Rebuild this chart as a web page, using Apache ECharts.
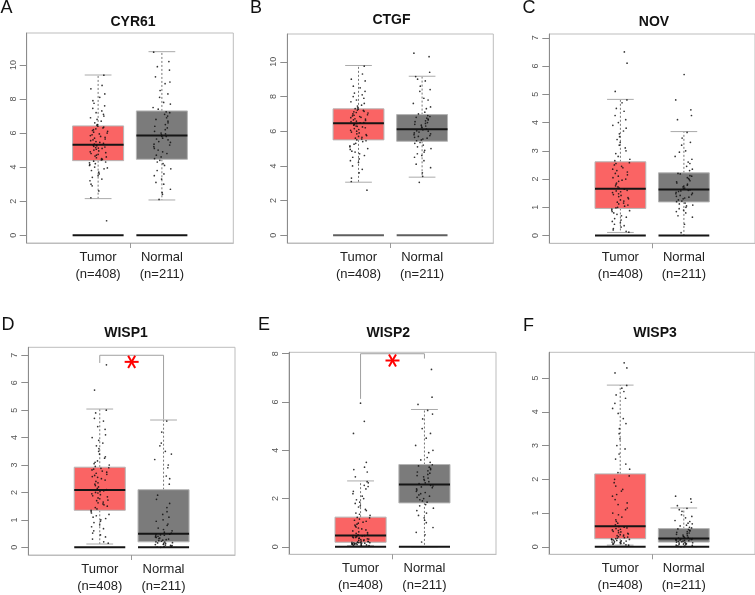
<!DOCTYPE html>
<html><head><meta charset="utf-8">
<script src="https://cdn.jsdelivr.net/npm/echarts@6/dist/echarts.min.js"></script>
<style>html,body{margin:0;padding:0;background:#fff}#c{width:755px;height:595px}</style>
</head><body><div id="c"></div>
<script>
// ---------- DATA ----------
const panelLetters = ['A','B','C','D','E','F'];
const genes = ['CYR61','CTGF','NOV','WISP1','WISP2','WISP3'];
const groupNames = ['Tumor','Normal'];
const groupCounts = [408, 211];
const groupPositions = [1, 2];

// y tick labels per panel
const ticksCYR61 = [0,2,4,6,8,10];
const ticksCTGF  = [0,2,4,6,8,10];
const ticksNOV   = [0,1,2,3,4,5,6,7];
const ticksWISP1 = [0,1,2,3,4,5,6,7];
const ticksWISP2 = [0,2,4,6,8];
const ticksWISP3 = [0,1,2,3,4,5];

// largest plotted value per panel (axis padded 4% each side, as in R)
const dataMax = [11.42, 11.16, 6.86, 7.01, 7.75, 5.54];

// box stats: [lower whisker, Q1, median, Q3, upper whisker]
const cyr61Tumor  = [2.15, 4.38, 5.32, 6.42, 9.41];
const cyr61Normal = [2.07, 4.46, 5.85, 7.30, 10.78];
const ctgfTumor   = [3.06, 5.50, 6.46, 7.29, 9.79];
const ctgfNormal  = [3.35, 5.42, 6.11, 6.96, 9.17];
const novTumor    = [0.11, 0.96, 1.66, 2.61, 4.82];
const novNormal   = [0.00, 1.19, 1.63, 2.22, 3.68];
const wisp1Tumor  = [0.12, 1.35, 2.09, 2.92, 5.04];
const wisp1Normal = [0.00, 0.20, 0.49, 2.10, 4.64];
const wisp2Tumor  = [0.05, 0.19, 0.47, 1.23, 2.73];
const wisp2Normal = [0.00, 1.82, 2.58, 3.41, 5.69];
const wisp3Tumor  = [0.05, 0.24, 0.61, 2.16, 4.79];
const wisp3Normal = [0.00, 0.14, 0.25, 0.54, 1.15];

// jittered sample points (expression values)
const cyr61TumorPts = [0.85,2.2,2.6,2.9,3.2,3.4,3.6,3.8,3.95,4.1,4.2,4.3,4.42,4.5,4.6,4.7,4.8,4.9,5.0,5.1,5.15,5.22,5.3,5.4,5.5,5.6,5.7,5.8,5.9,6.0,6.1,6.2,6.3,6.4,6.5,6.7,6.9,7.1,7.3,7.6,7.9,8.3,8.8,9.4,
  3.0,3.3,3.5,3.7,3.9,4.0,4.15,4.25,4.35,4.45,4.55,4.65,4.75,4.85,4.95,5.05,5.12,5.18,5.25,5.28,5.35,5.45,5.55,5.65,5.75,5.85,5.95,6.05,6.15,6.25,6.35,6.45,6.6,6.8,7.0,7.2,7.45,7.75,8.1,8.6];
const cyr61NormalPts = [2.1,2.4,2.7,3.0,3.3,3.6,3.9,4.2,4.4,4.6,4.8,5.0,5.2,5.35,5.5,5.6,5.7,5.8,5.95,6.1,6.3,6.5,6.7,6.8,7.0,7.1,7.25,7.5,7.8,8.1,8.5,8.9,9.3,9.7,10.2,10.75,
  2.5,3.1,3.5,3.8,4.1,4.3,4.5,4.7,4.9,5.1,5.3,5.45,5.65,5.8,5.9,6.0,6.2,6.4,6.6,6.9,7.2,7.4,7.7,8.3,9.0,9.9];
const ctgfTumorPts = [2.6,3.1,3.6,4.0,4.3,4.5,4.7,4.85,5.0,5.15,5.3,5.45,5.55,5.65,5.75,5.85,5.95,6.05,6.15,6.25,6.3,6.38,6.44,6.5,6.58,6.65,6.72,6.8,6.88,6.95,7.05,7.12,7.2,7.27,7.35,7.5,7.7,7.9,8.1,8.3,8.6,8.9,9.3,9.75,
  3.3,3.8,4.2,4.4,4.6,4.8,4.95,5.1,5.25,5.4,5.5,5.6,5.7,5.8,5.9,6.0,6.1,6.2,6.28,6.35,6.42,6.48,6.55,6.62,6.7,6.78,6.85,6.92,7.0,7.08,7.15,7.22,7.3,7.45,7.6,7.8,8.0,8.2,8.5,9.0];
const ctgfNormalPts = [3.05,3.4,3.9,4.3,4.6,4.8,5.0,5.2,5.35,5.5,5.6,5.7,5.8,5.9,5.95,6.0,6.08,6.2,6.3,6.4,6.5,6.6,6.7,6.8,6.9,7.1,7.3,7.6,7.9,8.3,8.6,8.9,9.15,9.4,10.3,10.5,
  3.6,4.1,4.5,4.7,4.9,5.1,5.3,5.45,5.55,5.65,5.75,5.85,6.02,6.12,6.25,6.35,6.45,6.55,6.65,6.75,6.85,7.0,7.4,7.8,8.4,9.0];
const novTumorPts = [0.12,0.2,0.3,0.4,0.5,0.6,0.7,0.8,0.88,0.94,1.0,1.08,1.15,1.22,1.3,1.38,1.45,1.52,1.58,1.64,1.72,1.82,1.92,2.0,2.1,2.2,2.3,2.4,2.5,2.58,2.7,2.9,3.1,3.3,3.5,3.7,3.9,4.1,4.4,4.8,5.1,6.1,6.5,
  0.15,0.25,0.35,0.45,0.55,0.65,0.75,0.85,0.9,0.98,1.04,1.12,1.18,1.26,1.34,1.42,1.48,1.55,1.6,1.68,1.76,1.86,1.96,2.05,2.15,2.25,2.35,2.45,2.55,2.65,2.8,3.0,3.2,3.4,3.6,3.8,4.0,4.25,4.5,4.7];
const novNormalPts = [0.1,0.4,0.65,0.8,0.9,1.0,1.08,1.15,1.22,1.3,1.36,1.42,1.48,1.53,1.58,1.62,1.68,1.75,1.82,1.9,1.98,2.05,2.12,2.2,2.3,2.45,2.6,2.8,3.0,3.2,3.45,3.65,4.1,4.25,4.45,4.8,5.7,
  0.7,0.85,0.95,1.05,1.12,1.2,1.26,1.33,1.39,1.45,1.5,1.56,1.6,1.66,1.72,1.78,1.86,1.94,2.02,2.1,2.18,2.35,2.55,2.7,2.95,3.3];
const wisp1TumorPts = [0.15,0.3,0.45,0.6,0.75,0.9,1.0,1.1,1.2,1.3,1.4,1.5,1.58,1.65,1.72,1.8,1.88,1.95,2.0,2.06,2.15,2.25,2.35,2.45,2.55,2.62,2.7,2.78,2.85,2.9,3.0,3.1,3.25,3.4,3.6,3.8,4.0,4.3,4.6,5.0,5.73,6.65,
  0.2,0.38,0.52,0.68,0.82,0.95,1.05,1.15,1.25,1.35,1.45,1.55,1.62,1.7,1.77,1.84,1.92,1.98,2.03,2.1,2.2,2.3,2.4,2.5,2.58,2.66,2.74,2.82,2.88,2.95,3.05,3.15,3.3,3.5,3.7,3.9,4.1,4.4,4.7,4.9];
const wisp1NormalPts = [0.0,0.03,0.06,0.08,0.11,0.14,0.17,0.19,0.22,0.26,0.3,0.34,0.38,0.42,0.45,0.48,0.55,0.65,0.8,0.95,1.1,1.3,1.6,1.9,2.3,2.6,2.9,3.2,3.5,3.8,4.2,4.6,
  0.01,0.04,0.07,0.1,0.13,0.16,0.2,0.24,0.28,0.32,0.36,0.4,0.44,0.47,0.52,0.6,0.7,0.85,1.0,1.2,1.45,1.75,2.5,3.0,3.4,3.7];
const wisp2TumorPts = [0.05,0.07,0.09,0.1,0.12,0.13,0.15,0.16,0.17,0.18,0.2,0.23,0.26,0.29,0.32,0.35,0.38,0.41,0.44,0.46,0.5,0.56,0.62,0.7,0.78,0.86,0.94,1.02,1.1,1.2,1.3,1.4,1.55,1.7,1.85,2.0,2.2,2.4,2.55,2.7,2.9,3.1,3.3,3.5,4.7,5.2,5.95,
  0.06,0.08,0.1,0.11,0.13,0.14,0.15,0.17,0.18,0.19,0.21,0.24,0.27,0.3,0.33,0.36,0.39,0.42,0.45,0.47,0.53,0.59,0.66,0.74,0.82,0.9,0.98,1.06,1.15,1.22,1.35,1.5,1.65,1.8,1.95,2.1,2.3,2.5,2.65,3.2];
const wisp2NormalPts = [0.2,0.5,0.8,1.0,1.2,1.4,1.6,1.75,1.9,2.0,2.1,2.2,2.3,2.4,2.48,2.55,2.65,2.75,2.85,2.95,3.05,3.15,3.25,3.35,3.5,3.7,3.9,4.2,4.5,4.9,5.3,5.65,5.9,6.2,7.35,
  0.6,1.1,1.3,1.5,1.7,1.85,1.95,2.05,2.15,2.25,2.35,2.45,2.52,2.62,2.7,2.8,2.9,3.0,3.1,3.2,3.3,3.4,3.6,4.0,4.7,5.5];
const wisp3TumorPts = [0.05,0.08,0.1,0.12,0.14,0.16,0.18,0.2,0.22,0.23,0.26,0.29,0.32,0.35,0.38,0.42,0.46,0.5,0.54,0.58,0.7,0.8,0.95,1.1,1.25,1.4,1.55,1.7,1.9,2.1,2.3,2.6,2.9,3.2,3.5,3.8,4.1,4.4,4.6,4.78,5.15,5.3,5.45,
  0.06,0.09,0.11,0.13,0.15,0.17,0.19,0.21,0.22,0.24,0.27,0.3,0.33,0.36,0.4,0.44,0.48,0.52,0.56,0.6,0.65,0.75,0.88,1.0,1.15,1.3,1.5,1.65,1.8,2.0,2.2,2.45,2.75,3.0,3.35,3.65,3.95,4.25,4.5,4.7];
const wisp3NormalPts = [0.0,0.02,0.04,0.06,0.08,0.1,0.12,0.13,0.15,0.17,0.18,0.2,0.21,0.22,0.23,0.24,0.27,0.3,0.33,0.37,0.41,0.45,0.49,0.53,0.58,0.64,0.7,0.78,0.86,0.95,1.05,1.14,1.22,1.32,1.42,1.5,
  0.01,0.03,0.05,0.07,0.09,0.11,0.14,0.16,0.19,0.2,0.22,0.24,0.26,0.28,0.31,0.35,0.39,0.43,0.47,0.51,0.56,0.62,0.68,0.75,0.9,1.1];

// significance brackets: [bracket top, left leg end, right leg end, asterisk y]
const wisp1Sig = [7.0, 6.72, 4.66, 6.76];
const wisp2Sig = [8.0, 6.13, 7.80, 7.72];

// ---------- ASSEMBLY ----------
const panelTicks = [ticksCYR61, ticksCTGF, ticksNOV, ticksWISP1, ticksWISP2, ticksWISP3];
const panelBoxes = [[cyr61Tumor,cyr61Normal],[ctgfTumor,ctgfNormal],[novTumor,novNormal],[wisp1Tumor,wisp1Normal],[wisp2Tumor,wisp2Normal],[wisp3Tumor,wisp3Normal]];
const panelPts = [[cyr61TumorPts,cyr61NormalPts],[ctgfTumorPts,ctgfNormalPts],[novTumorPts,novNormalPts],[wisp1TumorPts,wisp1NormalPts],[wisp2TumorPts,wisp2NormalPts],[wisp3TumorPts,wisp3NormalPts]];
const panelSig = [null, null, null, wisp1Sig, wisp2Sig, null];

// layout
const gridRects = [
  [26.7, 33, 206.6, 210],
  [287.3, 34, 206, 209],
  [549.3, 34, 206, 209.3],
  [28.3, 347.3, 206.7, 208.4],
  [289, 352.3, 207, 202],
  [549, 352.3, 206, 202]
];
const titlePos = [[133,21.7],[391.5,20.5],[654,21.7],[126,333.3],[388.3,333],[655,333]];
const letterPos = [[0.5,8.5],[250,8.5],[522.5,8.5],[1.5,325],[258,325.5],[523,326]];
const FONT = '"Liberation Sans", Arial, sans-serif';
const boxColors = ['#FA6464', '#7b7b7b'];
const zeroColors = ['#151515','#5f5f5f','#151515','#151515','#151515','#151515'];
const BOX_HALF = 0.4, CAP_HALF = 0.21, JIT = 0.15;

// deterministic horizontal spread for the jittered dots (layout only)
function jitterOffset(k, g) {
  const t = (k * k * 0.6180339887 + k * 0.3247 + g * 0.41) % 1;
  return (t - 0.5) * 2 * JIT;
}

const grids = [], xAxes = [], yAxes = [], series = [], graphics = [];

panelLetters.forEach((L, i) => {
  const r = gridRects[i];
  grids.push({left: r[0], top: r[1], width: r[2], height: r[3], show: true,
    borderColor: '#bdbdbd', borderWidth: 1, backgroundColor: 'transparent', containLabel: false});
  const pad = dataMax[i] * 0.04;
  xAxes.push({type: 'value', gridIndex: i, min: -0.12, max: 3.12,
    axisLine: {show: true, onZero: false, lineStyle: {color: '#bdbdbd', width: 1}},
    axisTick: {show: true, customValues: [1.5], length: 5, lineStyle: {color: '#999'}},
    axisLabel: {customValues: groupPositions, margin: 6, fontSize: 13, lineHeight: 17,
      fontFamily: FONT, color: '#222',
      formatter: v => { const k = groupPositions.indexOf(v); return k < 0 ? '' : groupNames[k] + '\n(n=' + groupCounts[k] + ')'; }},
    splitLine: {show: false}});
  yAxes.push({type: 'value', gridIndex: i, min: -pad, max: dataMax[i] + pad,
    axisLine: {show: true, onZero: false, lineStyle: {color: '#8c8c8c', width: 1}},
    axisTick: {show: true, customValues: panelTicks[i], length: 7, lineStyle: {color: '#8c8c8c'}},
    axisLabel: {customValues: panelTicks[i], rotate: 90, fontSize: 9, color: '#555', margin: 9, fontFamily: FONT},
    splitLine: {show: false}});

  const zc = zeroColors[i];
  series.push({
    type: 'custom', xAxisIndex: i, yAxisIndex: i, z: 2, silent: true,
    data: panelBoxes[i].map((s, g) => [groupPositions[g], s[0], s[1], s[2], s[3], s[4], g]),
    renderItem: (params, api) => {
      const p = api.value(0), lo = api.value(1), q1 = api.value(2), md = api.value(3), q3 = api.value(4), hi = api.value(5), g = api.value(6);
      const c = (x, y) => api.coord([x, y]);
      const tl = c(p - BOX_HALF, q3), br = c(p + BOX_HALF, q1);
      const line = (a, b, st) => ({type: 'line', shape: {x1: a[0], y1: a[1], x2: b[0], y2: b[1]}, style: st});
      const wst = {stroke: '#777', lineWidth: 1, lineDash: [2, 2]};
      const cst = {stroke: '#aaa', lineWidth: 1};
      return {type: 'group', children: [
        line(c(p, q3), c(p, hi), wst),
        line(c(p, q1), c(p, lo), wst),
        line(c(p - CAP_HALF, hi), c(p + CAP_HALF, hi), cst),
        line(c(p - CAP_HALF, lo), c(p + CAP_HALF, lo), cst),
        {type: 'rect', shape: {x: tl[0], y: tl[1], width: br[0] - tl[0], height: br[1] - tl[1]},
          style: {fill: boxColors[g], stroke: '#b5b5b5', lineWidth: 1}},
        line(c(p - BOX_HALF, md), c(p + BOX_HALF, md), {stroke: '#151515', lineWidth: 2}),
        line(c(p - BOX_HALF, 0), c(p + BOX_HALF, 0), {stroke: zc, lineWidth: 2})
      ]};
    }
  });

  const pts = [];
  panelPts[i].forEach((arr, g) => arr.forEach((v, k) => {
    pts.push([groupPositions[g] + jitterOffset(k + 1, g), v]);
  }));
  series.push({type: 'scatter', xAxisIndex: i, yAxisIndex: i, z: 3, silent: true,
    symbolSize: 1.7, itemStyle: {color: '#111', opacity: 0.85}, data: pts});

  if (panelSig[i]) {
    const s = panelSig[i];
    series.push({type: 'custom', xAxisIndex: i, yAxisIndex: i, z: 4, silent: true,
      data: [[s[0], s[1], s[2], s[3]]],
      renderItem: (params, api) => {
        const top = api.value(0), yl = api.value(1), yr = api.value(2), ys = api.value(3);
        const x1 = groupPositions[0], x2 = groupPositions[1];
        const a = api.coord([x1, yl]), b = api.coord([x1, top]), cc = api.coord([x2, top]), d = api.coord([x2, yr]);
        const st = api.coord([(x1 + x2) / 2, ys]);
        const R = 7, kids = [{type: 'polyline', shape: {points: [a, b, cc, d]}, style: {stroke: '#a0a0a0', lineWidth: 1, fill: null}}];
        [0, 60, 120].forEach(ang => {
          const rad = ang * Math.PI / 180, dx = R * Math.cos(rad), dy = R * Math.sin(rad);
          kids.push({type: 'line', shape: {x1: st[0] - dx, y1: st[1] - dy, x2: st[0] + dx, y2: st[1] + dy},
            style: {stroke: '#ff0000', lineWidth: 2}});
        });
        return {type: 'group', children: kids};
      }});
  }

  graphics.push({type: 'text', x: titlePos[i][0], y: titlePos[i][1],
    style: {text: genes[i], font: 'bold 14px ' + FONT, fill: '#111', textAlign: 'center', textVerticalAlign: 'middle'}});
  graphics.push({type: 'text', x: letterPos[i][0], y: letterPos[i][1],
    style: {text: L, font: '18px ' + FONT, fill: '#111', textAlign: 'left', textVerticalAlign: 'middle'}});
});

const chart = echarts.init(document.getElementById('c'), null, {renderer: 'canvas'});
chart.setOption({
  animation: false,
  backgroundColor: '#fff',
  grid: grids, xAxis: xAxes, yAxis: yAxes, series: series,
  graphic: {elements: graphics}
});
</script></body></html>
